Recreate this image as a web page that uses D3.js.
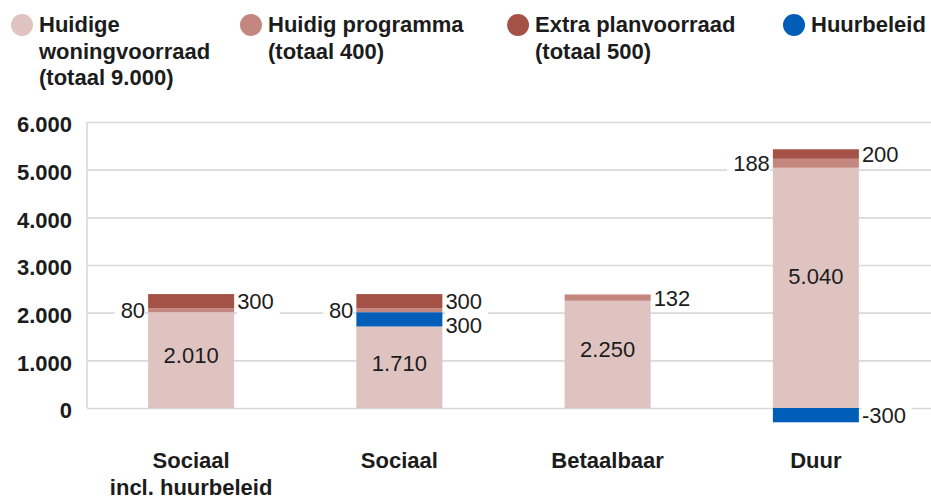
<!DOCTYPE html>
<html>
<head>
<meta charset="utf-8">
<script src="https://cdn.jsdelivr.net/npm/d3@7"></script>
<style>
  body { margin: 0; background: #fff; }
  svg text { font-family: "Liberation Sans", Arial, Helvetica, sans-serif; fill: #1c1c1c; }
</style>
</head>
<body>
<div id="chart"></div>
<script>
(function() {
    // data
    const categories = [["Sociaal", "incl. huurbeleid"], ["Sociaal"], ["Betaalbaar"], ["Duur"]];
    const huidigeVoorraad = [2010, 1710, 2250, 5040];
    const huurbeleid = [0, 300, 0, -300];
    const huidigProgramma = [80, 80, 132, 188];
    const extraPlanvoorraad = [300, 300, 0, 200];
    const yTicks = [0, 1000, 2000, 3000, 4000, 5000, 6000];
    const legendItems = [
      {lines: ["Huidige", "woningvoorraad", "(totaal 9.000)"], color: "#dfc3c0"},
      {lines: ["Huidig programma", "(totaal 400)"], color: "#c4877f"},
      {lines: ["Extra planvoorraad", "(totaal 500)"], color: "#a35245"},
      {lines: ["Huurbeleid"], color: "#005eb8"}
    ];

    const dim = {width: 931, height: 501};
    const svg = d3.select('#chart').append('svg')
      .attr('width', dim.width).attr('height', dim.height);

    const fmt = d3.formatLocale({decimal: ",", thousands: ".", grouping: [3], currency: ["€", ""]}).format(",d");

    let scaleX = d3.scaleBand()
      .domain(d3.range(categories.length))
      .range([87, 920])
      .paddingInner(0.587)
      .paddingOuter(0.2935);

    let scaleY = d3.scaleLinear()
      .domain([0, 6000])
      .range([408, 122]);

    // grid
    let axisY = d3.axisLeft(scaleY).tickValues(yTicks).tickSize(-(dim.width - 87)).tickFormat(fmt);
    let gy = svg.append('g').attr('transform', 'translate(87,0)').call(axisY);
    gy.select('.domain').remove();
    gy.selectAll('.tick line').attr('stroke', '#d9d9d9').attr('stroke-width', 1.6);
    gy.selectAll('.tick text')
      .attr('x', -15).attr('dy', '0.45em')
      .style('font-size', '22px').style('font-weight', 'bold').attr('fill', '#1c1c1c');
    svg.append('line')
      .attr('x1', 87).attr('x2', 87).attr('y1', scaleY(6000)).attr('y2', scaleY(0))
      .attr('stroke', '#d9d9d9').attr('stroke-width', 1.6);

    // segments per bar
    const segs = [];
    categories.forEach((c, i) => {
      let base = huidigeVoorraad[i];
      segs.push({i: i, y0: 0, y1: base, color: legendItems[0].color, label: fmt(base), side: 'in'});
      let top = base;
      if (huurbeleid[i] > 0) {
        segs.push({i: i, y0: top, y1: top + huurbeleid[i], color: legendItems[3].color, label: fmt(huurbeleid[i]), side: 'right'});
        top += huurbeleid[i];
      } else if (huurbeleid[i] < 0) {
        segs.push({i: i, y0: huurbeleid[i], y1: 0, color: legendItems[3].color, label: "-" + fmt(-huurbeleid[i]), side: 'right'});
      }
      segs.push({i: i, y0: top, y1: top + huidigProgramma[i], color: legendItems[1].color, label: fmt(huidigProgramma[i]),
        side: extraPlanvoorraad[i] > 0 ? 'left' : 'right'});
      top += huidigProgramma[i];
      if (extraPlanvoorraad[i] > 0) {
        segs.push({i: i, y0: top, y1: top + extraPlanvoorraad[i], color: legendItems[2].color, label: fmt(extraPlanvoorraad[i]), side: 'right'});
      }
    });

    svg.append('g').selectAll('rect').data(segs).enter().append('rect')
      .attr('x', d => scaleX(d.i))
      .attr('width', scaleX.bandwidth())
      .attr('y', d => scaleY(d.y1))
      .attr('height', d => scaleY(d.y0) - scaleY(d.y1))
      .attr('fill', d => d.color);

    // labels
    const bw = scaleX.bandwidth();
    const lab = svg.append('g');
    segs.forEach(d => {
      d.cy = d.side === 'in' ? scaleY(d.y1 * 0.55) : scaleY((d.y0 + d.y1) / 2);
    });
    // keep right labels of one bar apart, top-down
    d3.groups(segs.filter(d => d.side === 'right'), d => d.i).forEach(([i, arr]) => {
      arr.sort((a, b) => a.cy - b.cy);
      for (let k = 1; k < arr.length; k++) {
        if (arr[k].cy - arr[k - 1].cy < 24) arr[k].cy = arr[k - 1].cy + 24;
      }
    });
    segs.forEach(d => {
      let cx = scaleX(d.i);
      if (d.side === 'in') {
        lab.append('text').attr('x', cx + bw / 2).attr('y', d.cy).attr('dy', '0.36em')
          .attr('text-anchor', 'middle').style('font-size', '22px').text(d.label);
        return;
      }
      let g = lab.append('g');
      let t = g.append('text')
        .attr('x', d.side === 'left' ? cx - 3 : cx + bw + 3)
        .attr('y', d.cy).attr('dy', '0.36em')
        .attr('text-anchor', d.side === 'left' ? 'end' : 'start')
        .style('font-size', '22px').text(d.label);
      let bb = t.node().getBBox();
      g.insert('rect', 'text')
        .attr('x', d.side === 'left' ? bb.x - 6 : bb.x)
        .attr('width', bb.width + 6)
        .attr('y', bb.y).attr('height', bb.height)
        .attr('fill', '#fff');
    });

    // category labels
    const cat = svg.append('g');
    categories.forEach((lines, i) => {
      let t = cat.append('text').attr('text-anchor', 'middle')
        .style('font-size', '22px').style('font-weight', 'bold');
      lines.forEach((l, k) => {
        t.append('tspan').attr('x', scaleX(i) + bw / 2).attr('y', 468 + k * 27).text(l);
      });
    });

    // legend
    const legendX = [22, 251, 518, 794];
    const leg = svg.append('g');
    legendItems.forEach((it, i) => {
      leg.append('circle').attr('cx', legendX[i]).attr('cy', 25).attr('r', 11).attr('fill', it.color);
      let t = leg.append('text').style('font-size', '22px').style('font-weight', 'bold');
      it.lines.forEach((l, k) => {
        t.append('tspan').attr('x', legendX[i] + 17).attr('y', 32 + k * 26.5).text(l);
      });
    });
})();
</script>
</body>
</html>
